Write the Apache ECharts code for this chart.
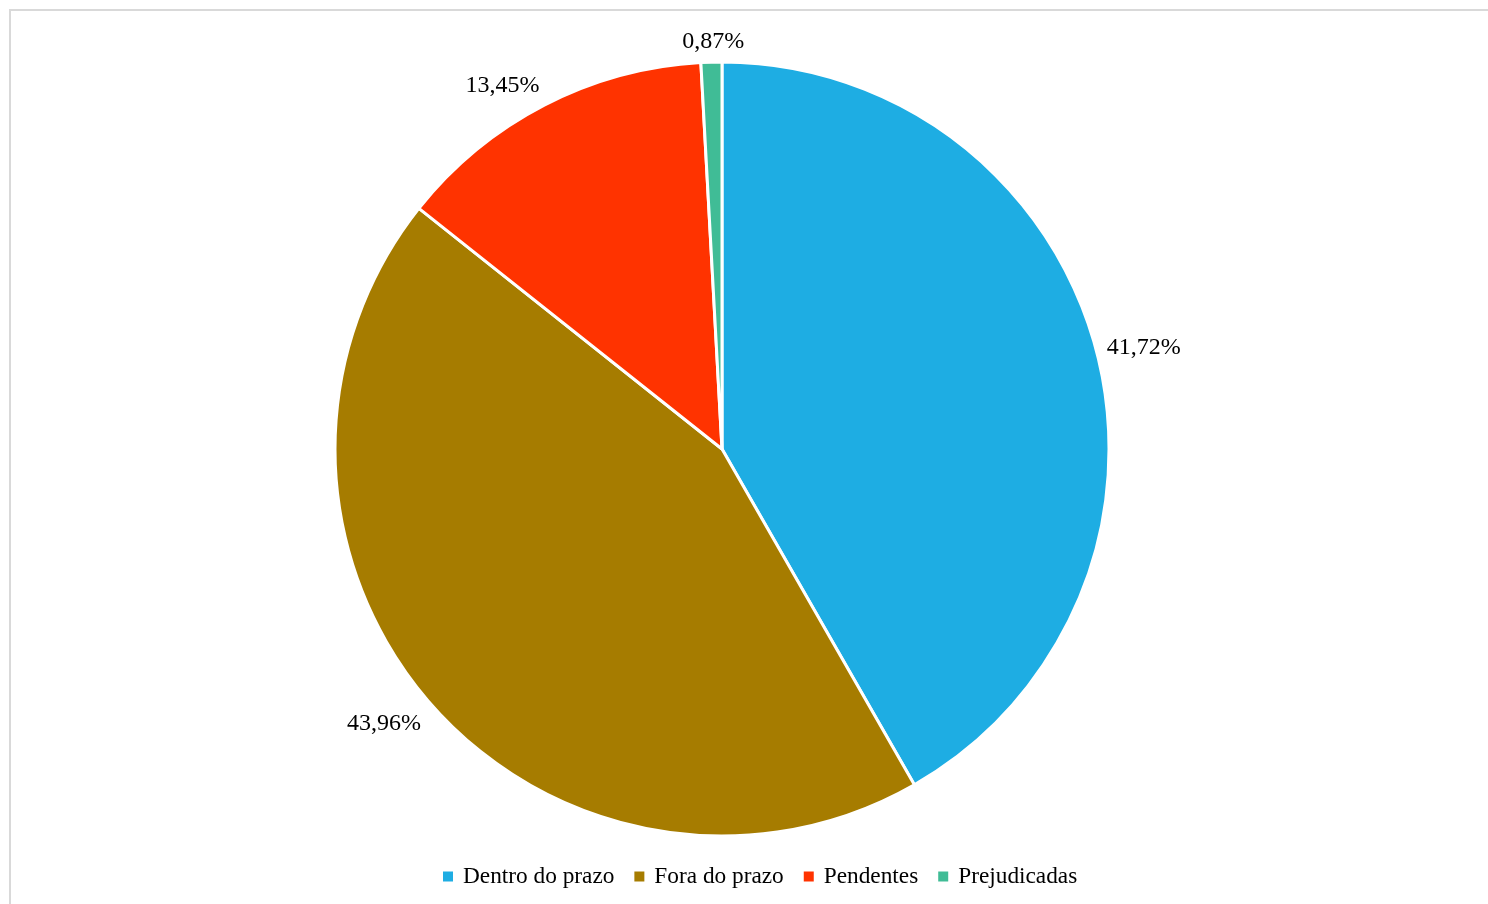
<!DOCTYPE html>
<html><head><meta charset="utf-8">
<script src="https://cdn.jsdelivr.net/npm/echarts@6/dist/echarts.min.js"></script>
<style>
html,body{margin:0;padding:0;background:#fff;overflow:hidden}
#frame{position:absolute;left:9px;top:9px;width:1500px;height:920px;border:2px solid #d9d9d9;box-sizing:border-box}
#chart{position:absolute;left:0;top:0;width:1488px;height:904px}
</style></head>
<body>
<div id="frame"></div>
<div id="chart"></div>
<script>
const categories = ['Dentro do prazo', 'Fora do prazo', 'Pendentes', 'Prejudicadas'];
const values = [41.72, 43.96, 13.45, 0.87];
const colors = ['#1EADE3', '#A67C00', '#FF3300', '#40BC96'];
// label nudges (px) to match the reference's label placement
const labelOffsets = [[0, 0], [2, 19], [3, -14], [38, -14]];

const chart = echarts.init(document.getElementById('chart'), null, {renderer: 'canvas'});
chart.setOption({
  animation: false,
  color: colors,
  legend: {
    left: 436, top: 860,
    itemWidth: 12, itemHeight: 12, itemGap: 18,
    icon: 'rect',
    textStyle: {fontFamily: 'Liberation Serif', fontSize: 23.3, color: '#000', padding: [0, 0, 0, 4]},
    data: categories
  },
  series: [{
    type: 'pie',
    center: [722, 449],
    radius: 387,
    startAngle: 90,
    clockwise: true,
    itemStyle: {borderColor: '#fff', borderWidth: 3},
    label: {
      show: true, position: 'outside',
      fontFamily: 'Liberation Serif', fontSize: 24, color: '#000',
      formatter: p => p.value.toFixed(2).replace('.', ',') + '%'
    },
    labelLine: {show: false, length: 6, length2: 0},
    emphasis: {disabled: true},
    data: categories.map((c, i) => ({name: c, value: values[i], label: {offset: labelOffsets[i]}}))
  }]
});
</script>
</body></html>
